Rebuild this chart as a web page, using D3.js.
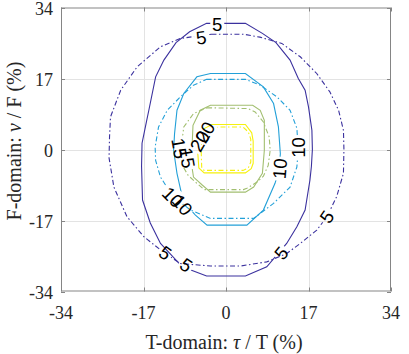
<!DOCTYPE html>
<html>
<head>
<meta charset="utf-8">
<script src="https://cdn.jsdelivr.net/npm/d3@7"></script>
<style>
  html, body { margin: 0; padding: 0; background: #fff; }
  svg { display: block; }
</style>
</head>
<body>
<svg id="chart" width="409" height="354"></svg>
<script>
// ---------------- data ----------------
const xTicks = [-34, -17, 0, 17, 34];
const yTicks = [-34, -17, 0, 17, 34];
const levels = [5, 10, 15, 20];
const xTitleParts = ["T-domain: ", "\u03C4", " / T (%)"];
const yTitleParts = ["F-domain: ", "\u03BD", " / F (%)"];

// contour vertices (data units: tau/T %, nu/F %), solid = set A, dashdot = set B
const solid5 = [[-4.0,30.2],[4.0,30.2],[7.5,27.8],[10.3,25.6],[13.2,21.4],[14.9,17.0],[16.3,14.2],[17.0,10.2],[17.7,4.6],[17.8,0],[17.6,-4.0],[17.3,-7.3],[16.3,-14.5],[14.6,-18.5],[12.5,-22.5],[8.4,-28.1],[4.0,-30.3],[-4.0,-30.3],[-9.0,-28.1],[-13.5,-22.5],[-15.6,-17.6],[-17.2,-12.1],[-17.4,-4.0],[-17.3,1.5],[-16.4,6.6],[-15.9,9.4],[-14.5,17.4],[-12.8,21.4],[-10.3,25.6],[-7.5,28.2]];
const dash5 = [[-3.0,27.6],[3.6,27.6],[7.0,26.9],[11.5,25.4],[15.3,22.2],[18.7,18.2],[21.4,13.8],[23.2,9.4],[24.2,4.6],[24.3,0],[24.2,-5.7],[22.8,-11.3],[20.8,-16.1],[18.7,-19.3],[15.3,-22.5],[12.5,-24.9],[8.4,-26.9],[3.0,-27.9],[-3.2,-27.9],[-9.4,-27.3],[-13.0,-24.5],[-16.9,-20.9],[-20.4,-16.1],[-23.1,-9.0],[-24.1,-2.0],[-24.0,3.0],[-23.8,7.8],[-21.7,14.2],[-18.3,19.8],[-13.5,24.6],[-9.4,26.6]];
const solid10 = [[-3.2,18.2],[4.0,18.2],[7.7,15.0],[9.8,11.0],[10.8,5.4],[11.2,-1.0],[10.9,-5.0],[10.1,-8.1],[7.7,-14.5],[4.3,-18.1],[-3.9,-18.1],[-6.3,-15.7],[-8.8,-12.5],[-10.1,-5.7],[-10.8,-0.2],[-10.6,3.8],[-10.1,9.4],[-8.7,13.4],[-6.0,17.4]];
const dash10 = [[-4.0,16.8],[4.0,16.8],[7.05,15.4],[10.5,12.6],[13.2,9.4],[14.6,5.1],[14.9,0],[14.6,-4.2],[13.2,-9.0],[9.8,-12.9],[5.7,-16.5],[-3.2,-16.5],[-7.3,-14.5],[-11.0,-11.2],[-13.5,-6.6],[-14.5,-2.6],[-14.6,0.6],[-13.9,5.4],[-12.1,9.4],[-9.4,12.6],[-6.7,15.4]];
const solid15 = [[-3.2,10.6],[5.5,10.6],[7.05,9.4],[7.9,7.0],[7.9,-0.2],[7.5,-5.7],[5.7,-9.0],[4.0,-10.2],[-3.2,-10.2],[-4.9,-8.5],[-6.7,-6.6],[-7.3,-2.0],[-7.0,0.5],[-6.8,5.8],[-5.3,9.4]];
const dash15 = [[-3.9,10.0],[4.5,9.8],[6.0,9.0],[7.7,6.6],[8.9,3.0],[9.1,-0.2],[8.7,-3.8],[7.7,-6.4],[6.4,-7.8],[4.3,-9.3],[3.6,-9.6],[-4.5,-9.6],[-6.0,-8.1],[-7.8,-6.2],[-9.0,-3.8],[-9.3,-0.2],[-8.7,5.4],[-6.7,8.6]];
const solid20 = [[-2.9,6.0],[4.0,6.0],[5.3,4.0],[5.6,2.0],[5.6,-3.3],[5.2,-4.6],[4.0,-5.6],[-4.5,-5.6],[-5.6,-4.4],[-5.8,-1.0],[-5.6,2.0],[-4.5,5.0]];
const dash20 = [[-3.5,5.4],[3.5,5.4],[4.6,4.2],[5.1,2.5],[5.1,-3.0],[4.6,-4.4],[3.5,-5.0],[-4.5,-5.0],[-5.0,-4.4],[-5.1,-1.0],[-5.0,2.5],[-4.5,4.2]];

// contour labels: text, owning contour, position (data units), rotation
const labelText  = ["5","5","10","10","5","5","5","5","10","10","20","20","15","15"];
const labelOwner = ["s5","d5","d10","s10","d5","s5","d5","s5","d10","s10","s20","d20","d15","s15"];
const labelX     = [-1.8,-5.1,15.0,11.1,20.8,11.4,-12.5,-8.2,-11.0,-9.0,-5.4,-4.3,-9.6,-8.0];
const labelY     = [30.0,26.8,0.5,-4.6,-16.1,-24.8,-24.8,-27.7,-11.4,-13.3,2.0,4.1,0.3,-2.0];
const labelRot   = [0,-8,-90,-85,-55,-50,36,35,45,50,-60,-60,80,80];

// ---------------- chart ----------------
const levelColor = {5:"#3b319e", 10:"#23a0d8", 15:"#a2bf70", 20:"#f6f10f"};
const contours = [
  {id:"d5",  level:5,  dash:true,  pts:dash5},
  {id:"s5",  level:5,  dash:false, pts:solid5},
  {id:"d10", level:10, dash:true,  pts:dash10},
  {id:"s10", level:10, dash:false, pts:solid10},
  {id:"d15", level:15, dash:true,  pts:dash15},
  {id:"s15", level:15, dash:false, pts:solid15},
  {id:"d20", level:20, dash:true,  pts:dash20},
  {id:"s20", level:20, dash:false, pts:solid20}
];

const svg = d3.select("#chart");
const L = 61, R = 391, T = 7.5, B = 291.5;
const x = d3.scaleLinear().domain([-34, 34]).range([L, R]);
const y = d3.scaleLinear().domain([-34, 34]).range([B, T]);

const axisColor = "#858585";
const gridColor = "#e3e3e3";
const serif = "'Liberation Serif','Times New Roman',serif";

// grid
const g = svg.append("g");
g.selectAll(".gx").data(xTicks.slice(1, -1)).join("line")
  .attr("x1", d => Math.round(x(d)) + 0.5).attr("x2", d => Math.round(x(d)) + 0.5)
  .attr("y1", T).attr("y2", B).attr("stroke", gridColor).attr("stroke-width", 1);
g.selectAll(".gy").data(yTicks.slice(1, -1)).join("line")
  .attr("y1", d => Math.round(y(d)) + 0.5).attr("y2", d => Math.round(y(d)) + 0.5)
  .attr("x1", L).attr("x2", R).attr("stroke", gridColor).attr("stroke-width", 1);

const labels = labelText.map((t, i) => ({text:t, owner:labelOwner[i], x:labelX[i], y:labelY[i], rot:labelRot[i]}));
const fontLab = "'Liberation Sans', Arial, Helvetica, sans-serif";

// masks that break each contour under its own labels
const defs = svg.append("defs");
contours.forEach(c => {
  const m = defs.append("mask").attr("id", "m_" + c.id).attr("maskUnits", "userSpaceOnUse")
    .attr("x", 0).attr("y", 0).attr("width", 409).attr("height", 354);
  m.append("rect").attr("x", 0).attr("y", 0).attr("width", 409).attr("height", 354).attr("fill", "#fff");
  labels.filter(l => l.owner === c.id).forEach(l => {
    const w = l.text.length * 10 + 4;
    m.append("rect")
      .attr("x", -w / 2).attr("y", -8).attr("width", w).attr("height", 16)
      .attr("transform", `translate(${x(l.x)},${y(l.y)}) rotate(${l.rot})`)
      .attr("fill", "#000");
  });
});

// contour lines
const line = d3.line().x(d => x(d[0])).y(d => y(d[1])).curve(d3.curveLinearClosed);
svg.append("g").selectAll("path").data(contours).join("path")
  .attr("d", d => line(d.pts))
  .attr("fill", "none")
  .attr("stroke", d => levelColor[d.level])
  .attr("stroke-width", 1.1)
  .attr("stroke-dasharray", d => d.dash ? "5,2.5,1.5,2.5" : null)
  .attr("mask", d => `url(#m_${d.id})`);

// contour labels
svg.append("g").selectAll("text").data(labels).join("text")
  .attr("transform", d => `translate(${x(d.x)},${y(d.y)}) rotate(${d.rot})`)
  .attr("text-anchor", "middle")
  .attr("dominant-baseline", "central")
  .attr("font-family", fontLab)
  .attr("font-size", 18.5)
  .attr("fill", "#000")
  .text(d => d.text);

// frame (box)
const fr = svg.append("g").attr("stroke", axisColor).attr("stroke-width", 1).attr("fill", "none");
fr.append("rect").attr("x", L + 0.5).attr("y", T + 0.5).attr("width", R - L - 1).attr("height", B - T - 1);

// ticks (inward)
const tl = 4;
xTicks.forEach(t => {
  const px = Math.round(x(t)) + 0.5;
  fr.append("line").attr("x1", px).attr("x2", px).attr("y1", B).attr("y2", B - tl);
  fr.append("line").attr("x1", px).attr("x2", px).attr("y1", T).attr("y2", T + tl);
});
yTicks.forEach(t => {
  const py = Math.round(y(t)) + 0.5;
  fr.append("line").attr("y1", py).attr("y2", py).attr("x1", L).attr("x2", L + tl);
  fr.append("line").attr("y1", py).attr("y2", py).attr("x1", R).attr("x2", R - tl);
});

// tick labels
svg.append("g").selectAll("text").data(xTicks).join("text")
  .attr("x", d => x(d)).attr("y", 313)
  .attr("text-anchor", "middle").attr("dominant-baseline", "central")
  .attr("font-family", serif).attr("font-size", 18).attr("fill", "#262626")
  .text(d => d);
svg.append("g").selectAll("text").data(yTicks).join("text")
  .attr("x", 53).attr("y", d => y(d) + 1)
  .attr("text-anchor", "end").attr("dominant-baseline", "central")
  .attr("font-family", serif).attr("font-size", 18).attr("fill", "#262626")
  .text(d => d);

// axis titles (Greek symbols in italic)
function title(sel, parts) {
  parts.forEach((p, i) => {
    sel.append("tspan").attr("font-style", i === 1 ? "italic" : "normal").text(p);
  });
}
const xt = svg.append("text")
  .attr("x", 224).attr("y", 342)
  .attr("text-anchor", "middle").attr("dominant-baseline", "central")
  .attr("font-family", serif).attr("font-size", 20).attr("fill", "#262626");
title(xt, xTitleParts);
const yt = svg.append("text")
  .attr("transform", "translate(14,141) rotate(-90)")
  .attr("text-anchor", "middle").attr("dominant-baseline", "central")
  .attr("font-family", serif).attr("font-size", 20).attr("fill", "#262626");
title(yt, yTitleParts);
</script>
</body>
</html>
